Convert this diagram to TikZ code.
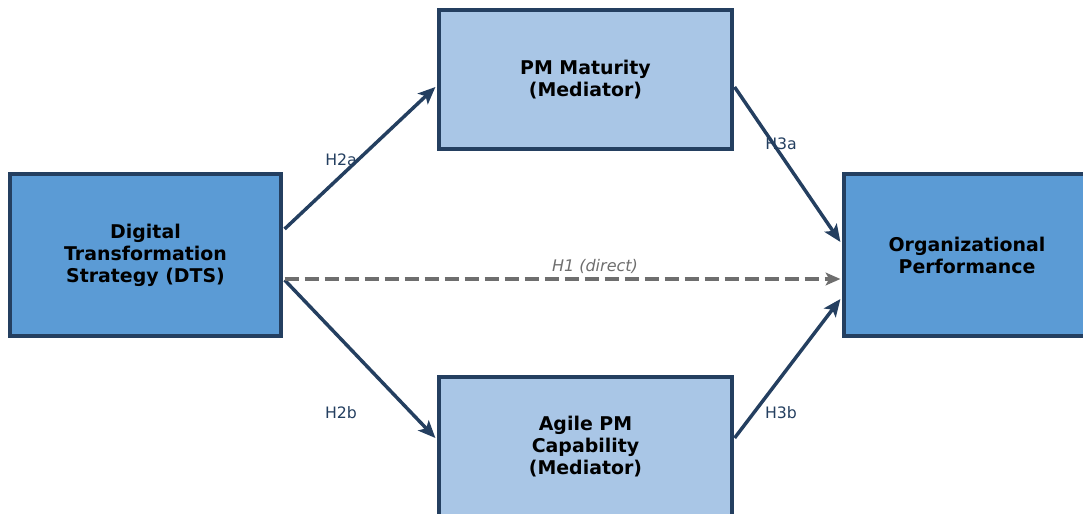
\documentclass[tikz,border=0pt]{standalone}
\usepackage{fontspec}
\setmainfont{DejaVu Sans}
\usetikzlibrary{arrows.meta,calc}
\definecolor{navy}{HTML}{243F60}
\definecolor{boxdark}{HTML}{5B9BD5}
\definecolor{boxlight}{HTML}{A9C6E6}
\definecolor{dashgray}{HTML}{6E6E6E}
\tikzset{
  box/.style={draw=navy,line width=2.4pt,rectangle,align=center,inner sep=0pt,
    font=\fontsize{14.2}{16.5}\selectfont\bfseries,text=black},
  darkbox/.style={box,fill=boxdark},
  lightbox/.style={box,fill=boxlight},
  hyp/.style={font=\fontsize{11.8}{13}\selectfont,text=navy},
  navyhead/.tip={Stealth[length=13pt,width=11pt,inset=3pt]},
  grayhead/.tip={Stealth[length=11pt,width=9.5pt,inset=2.5pt]},
  conn/.style={draw=navy,line width=2.6pt,-navyhead},
  direct/.style={draw=dashgray,line width=2.6pt,dash pattern=on 10.5pt off 4.5pt,-grayhead},
}
\begin{document}
\begin{tikzpicture}[x=0.75pt,y=-0.75pt]
\useasboundingbox (0,0) rectangle (1083,514);
\clip (0,0) rectangle (1083,514);
\node[darkbox,minimum width=203.25pt,minimum height=121.5pt] (dts) at (145.5,255) {Digital\\Transformation\\Strategy (DTS)};
\node[lightbox,minimum width=219.75pt,minimum height=104.25pt] (pmm) at (585.5,79.5) {PM Maturity\\(Mediator)};
\node[lightbox,minimum width=219.75pt,minimum height=104.25pt] (agile) at (585.5,446.5) {Agile PM\\Capability\\(Mediator)};
\node[darkbox,minimum width=203.25pt,minimum height=121.5pt] (org) at (979.5,255) {};
\node[font=\fontsize{14.2}{16.5}\selectfont\bfseries,align=center] (orgtext) at (967,255) {Organizational\\Performance};
% labels
\node[hyp] (l2a) at (341,160) {H2a};
\node[hyp] (l2b) at (341,413) {H2b};
\node[hyp] (l3a) at (781,144) {H3a};
\node[hyp] (l3b) at (781,413) {H3b};
\node[hyp,font=\fontsize{12}{14}\selectfont\itshape,text=dashgray] (l1) at (595,266) {H1 (direct)};
% connectors
\coordinate (s2a) at ($(dts.east)+(2,-26)$);
\coordinate (s2b) at ($(dts.east)+(2,25)$);
\coordinate (e2a) at ($(pmm.west)+(-2,7.5)$);
\coordinate (e2b) at ($(agile.west)+(-2,-8.5)$);
\coordinate (s3a) at ($(pmm.east)+(1,7.5)$);
\coordinate (s3b) at ($(agile.east)+(1,-8.5)$);
\coordinate (e3a) at ($(org.west)+(-2,-13)$);
\coordinate (e3b) at ($(org.west)+(-2,44)$);
\coordinate (s1) at ($(dts.east)+(2,24)$);
\coordinate (e1) at ($(org.west)+(-2,24)$);
\draw[conn] (s2a) -- (e2a);
\draw[conn] (s2b) -- (e2b);
\draw[conn] (s3a) -- (e3a);
\draw[conn] (s3b) -- (e3b);
\draw[direct] (s1) -- (e1);
\end{tikzpicture}
\end{document}
